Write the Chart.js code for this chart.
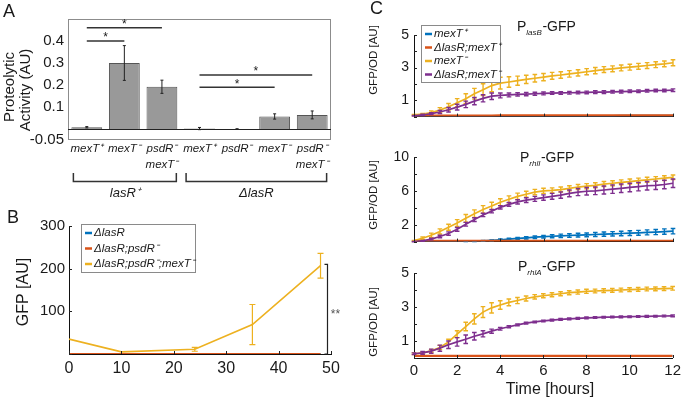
<!DOCTYPE html>
<html>
<head>
<meta charset="utf-8">
<title>Proteolytic activity and GFP reporters</title>
<script src="https://cdn.jsdelivr.net/npm/chart.js@4.4.1/dist/chart.umd.min.js"></script>
<style>
  body { margin: 0; background: #fff; }
  #page { position: relative; width: 685px; height: 401px; overflow: hidden; }
  canvas { position: absolute; }
</style>
</head>
<body>
<div id="page">
  <canvas id="chartA" width="345" height="200" style="left:0;top:0"></canvas>
  <canvas id="chartB" width="350" height="201" style="left:0;top:200px"></canvas>
  <canvas id="chartC1" width="330" height="130" style="left:355px;top:0"></canvas>
  <canvas id="chartC2" width="330" height="125" style="left:355px;top:130px"></canvas>
  <canvas id="chartC3" width="330" height="146" style="left:355px;top:255px"></canvas>
</div>
<script>
// ---- panel A: proteolytic activity
const aLabels = [['mexT⁺'], ['mexT⁻'], ['psdR⁻', 'mexT⁻'], ['mexT⁺'], ['psdR⁻'], ['mexT⁻'], ['psdR⁻', 'mexT⁻']];
const aValues = [0.008, 0.300, 0.192, 0.002, 0.000, 0.057, 0.064];
const aErrors = [0.003, 0.079, 0.030, 0.005, 0.001, 0.012, 0.018];
const aTicks = [-0.05, 0.1, 0.2, 0.3, 0.4];
const aSig = [[0, 2, 0.46], [0, 1, 0.40], [3, 6, 0.245], [3, 5, 0.19]];   // from bar, to bar, level
const aGroups = [['lasR⁺', 0, 2], ['ΔlasR', 3, 6]];

// ---- panel B: GFP over time
const bTimes = [0, 10, 24, 35, 48];
const bBlue = [0, 0, 0, 0, 0];
const bRed = [0, 0, 0, 0, 0];
const bYellow = [35, 5, 11, 69, 207];
const bYellowErr = [0, 0, 4.5, 47, 29];
const bSig = [49.2, 210];

// ---- panel C: reporter time courses (hours)
const cTimes = [0, 0.4, 0.8, 1.2, 1.6, 2.0, 2.4, 2.8, 3.2, 3.6, 4.0, 4.4, 4.8, 5.2, 5.6, 6.0,
  6.4, 6.8, 7.2, 7.6, 8.0, 8.4, 8.8, 9.2, 9.6, 10.0, 10.4, 10.8, 11.2, 11.6, 12.0];

// PlasB-GFP
const c1Blue = [0.04, 0.04, 0.04, 0.04, 0.04, 0.04, 0.04, 0.04, 0.04, 0.04, 0.05, 0.05, 0.05, 0.05, 0.05, 0.05,
  0.05, 0.05, 0.05, 0.05, 0.05, 0.05, 0.05, 0.05, 0.06, 0.06, 0.06, 0.06, 0.06, 0.06, 0.06];
const c1Red = [0.06, 0.06, 0.06, 0.06, 0.06, 0.06, 0.06, 0.06, 0.06, 0.06, 0.07, 0.07, 0.07, 0.07, 0.07, 0.07,
  0.07, 0.07, 0.07, 0.07, 0.07, 0.07, 0.07, 0.07, 0.08, 0.08, 0.08, 0.08, 0.08, 0.08, 0.08];
const c1Yellow = [0.10, 0.15, 0.25, 0.40, 0.60, 0.85, 1.10, 1.40, 1.65, 1.90, 2.05, 2.12, 2.20, 2.28, 2.35, 2.42,
  2.50, 2.55, 2.62, 2.68, 2.75, 2.82, 2.88, 2.93, 2.98, 3.03, 3.08, 3.13, 3.18, 3.23, 3.30];
const c1YellowErr = [0.03, 0.05, 0.10, 0.15, 0.20, 0.25, 0.30, 0.33, 0.36, 0.38, 0.36, 0.32, 0.28, 0.25, 0.23, 0.22,
  0.21, 0.20, 0.20, 0.19, 0.19, 0.19, 0.18, 0.18, 0.18, 0.18, 0.18, 0.18, 0.18, 0.18, 0.18];
const c1Purple = [0.05, 0.10, 0.18, 0.28, 0.42, 0.58, 0.75, 0.95, 1.12, 1.25, 1.30, 1.33, 1.36, 1.38, 1.40, 1.42,
  1.44, 1.45, 1.46, 1.47, 1.48, 1.50, 1.50, 1.52, 1.53, 1.55, 1.56, 1.58, 1.60, 1.60, 1.62];
const c1PurpleErr = [0.02, 0.04, 0.06, 0.10, 0.14, 0.18, 0.20, 0.22, 0.22, 0.20, 0.15, 0.12, 0.10, 0.10, 0.09, 0.09,
  0.08, 0.08, 0.08, 0.08, 0.08, 0.08, 0.08, 0.08, 0.08, 0.08, 0.08, 0.08, 0.08, 0.08, 0.08];

// PrhlI-GFP
const c2Blue = [0.00, 0.00, 0.00, 0.01, 0.01, 0.02, 0.03, 0.04, 0.08, 0.14, 0.22, 0.30, 0.38, 0.45, 0.52, 0.58,
  0.63, 0.68, 0.72, 0.76, 0.80, 0.84, 0.88, 0.92, 0.96, 1.00, 1.04, 1.09, 1.13, 1.18, 1.23];
const c2BlueErr = [0, 0, 0, 0, 0, 0, 0.02, 0.03, 0.05, 0.06, 0.08, 0.10, 0.12, 0.14, 0.15, 0.16,
  0.18, 0.20, 0.20, 0.22, 0.22, 0.24, 0.25, 0.26, 0.27, 0.28, 0.29, 0.30, 0.30, 0.32, 0.32];
const c2Red = [0.08, 0.08, 0.08, 0.08, 0.08, 0.08, 0.08, 0.08, 0.08, 0.08, 0.09, 0.09, 0.09, 0.09, 0.09, 0.09,
  0.09, 0.09, 0.09, 0.09, 0.10, 0.10, 0.10, 0.10, 0.10, 0.10, 0.10, 0.10, 0.10, 0.10, 0.10];
const c2Yellow = [0.10, 0.40, 0.75, 1.20, 1.70, 2.20, 2.75, 3.30, 3.80, 4.20, 4.65, 5.00, 5.35, 5.60, 5.85, 6.00,
  6.05, 6.15, 6.30, 6.45, 6.55, 6.65, 6.80, 6.90, 7.00, 7.10, 7.20, 7.30, 7.40, 7.50, 7.60];
const c2YellowErr = [0.05, 0.15, 0.25, 0.30, 0.35, 0.40, 0.45, 0.45, 0.45, 0.45, 0.42, 0.40, 0.38, 0.35, 0.32, 0.30,
  0.30, 0.30, 0.30, 0.30, 0.30, 0.30, 0.30, 0.30, 0.30, 0.30, 0.30, 0.30, 0.28, 0.28, 0.28];
const c2Purple = [0.00, 0.10, 0.30, 0.60, 0.95, 1.45, 2.05, 2.60, 3.15, 3.60, 4.05, 4.40, 4.70, 4.90, 5.05, 5.20,
  5.35, 5.50, 5.70, 5.85, 5.95, 6.00, 6.10, 6.20, 6.30, 6.40, 6.50, 6.60, 6.65, 6.75, 6.90];
const c2PurpleErr = [0.02, 0.05, 0.10, 0.15, 0.20, 0.22, 0.22, 0.22, 0.20, 0.20, 0.20, 0.22, 0.25, 0.28, 0.30, 0.32,
  0.35, 0.38, 0.40, 0.42, 0.45, 0.45, 0.48, 0.50, 0.50, 0.50, 0.50, 0.50, 0.50, 0.50, 0.50];

// PrhlA-GFP
const c3Blue = [0.12, 0.12, 0.12, 0.12, 0.12, 0.12, 0.12, 0.12, 0.12, 0.12, 0.12, 0.12, 0.12, 0.12, 0.12, 0.12,
  0.12, 0.12, 0.12, 0.12, 0.12, 0.12, 0.12, 0.12, 0.12, 0.12, 0.12, 0.12, 0.12, 0.12, 0.12];
const c3Red = [0.13, 0.13, 0.13, 0.13, 0.13, 0.13, 0.13, 0.13, 0.13, 0.13, 0.13, 0.13, 0.13, 0.13, 0.13, 0.13,
  0.13, 0.13, 0.13, 0.13, 0.13, 0.13, 0.13, 0.13, 0.13, 0.13, 0.13, 0.13, 0.13, 0.13, 0.13];
const c3Yellow = [0.25, 0.30, 0.42, 0.62, 0.95, 1.40, 1.85, 2.30, 2.70, 2.95, 3.12, 3.27, 3.38, 3.50, 3.60, 3.66,
  3.72, 3.78, 3.84, 3.88, 3.92, 3.94, 3.96, 3.98, 4.00, 4.02, 4.04, 4.06, 4.07, 4.08, 4.10];
const c3YellowErr = [0.05, 0.06, 0.08, 0.12, 0.15, 0.20, 0.25, 0.30, 0.32, 0.30, 0.25, 0.20, 0.18, 0.15, 0.13, 0.12,
  0.12, 0.12, 0.12, 0.12, 0.12, 0.11, 0.11, 0.11, 0.11, 0.11, 0.11, 0.11, 0.11, 0.11, 0.11];
const c3Purple = [0.25, 0.30, 0.40, 0.58, 0.78, 0.95, 1.10, 1.28, 1.42, 1.58, 1.72, 1.84, 1.95, 2.05, 2.12, 2.18,
  2.23, 2.27, 2.30, 2.33, 2.36, 2.38, 2.40, 2.41, 2.42, 2.43, 2.44, 2.45, 2.46, 2.47, 2.48];
const c3PurpleErr = [0.05, 0.08, 0.12, 0.18, 0.22, 0.25, 0.25, 0.22, 0.18, 0.12, 0.08, 0.06, 0.05, 0.05, 0.05, 0.05,
  0.05, 0.05, 0.05, 0.05, 0.05, 0.05, 0.05, 0.05, 0.05, 0.05, 0.05, 0.05, 0.05, 0.05, 0.05];

const cLabelsSmall = [1, 3, 5];
const cLabelsBig = [2, 6, 10];
const cXLabels = [0, 2, 4, 6, 8, 10, 12];

const FONT = "'Liberation Sans', Arial, sans-serif";
const BLUE = '#0072BD', RED = '#D95319', YELLOW = '#EDB120', PURPLE = '#7E2F8E';
const INK = '#1a1a1a';

Chart.defaults.font.family = FONT;
Chart.defaults.color = INK;
Chart.defaults.animation = false;
Chart.defaults.responsive = false;
Chart.defaults.plugins.legend.display = false;
Chart.defaults.plugins.tooltip.enabled = false;

const pts = (xs, ys) => xs.map((x, i) => ({ x: x, y: ys[i] }));

// error bars drawn right after their own dataset
const errorBars = {
  id: 'errorBars',
  afterDatasetDraw(chart, args) {
    const ds = chart.data.datasets[args.index];
    if (!ds.errors) return;
    const ctx = chart.ctx;
    const y = chart.scales.y;
    const cap = ds.capWidth || 2.5;
    ctx.save();
    ctx.strokeStyle = ds.errorColor || ds.borderColor;
    ctx.lineWidth = ds.errorWidth || 1.2;
    ctx.beginPath();
    args.meta.data.forEach((el, i) => {
      const e = ds.errors[i];
      if (!e) return;
      const raw = ds.data[i];
      const v = typeof raw === 'object' ? raw.y : raw;
      const top = y.getPixelForValue(v + e);
      const bot = y.getPixelForValue(v - e);
      ctx.moveTo(el.x, top); ctx.lineTo(el.x, bot);
      ctx.moveTo(el.x - cap, top); ctx.lineTo(el.x + cap, top);
      ctx.moveTo(el.x - cap, bot); ctx.lineTo(el.x + cap, bot);
    });
    ctx.stroke();
    ctx.restore();
  }
};

function text(ctx, str, x, y, font, opts) {
  opts = opts || {};
  ctx.save();
  ctx.font = font;
  ctx.fillStyle = opts.color || INK;
  ctx.textAlign = opts.align || 'center';
  ctx.textBaseline = opts.baseline || 'middle';
  ctx.translate(x, y);
  if (opts.vertical) ctx.rotate(-Math.PI / 2);
  ctx.fillText(str, 0, 0);
  ctx.restore();
}

function inwardTicks(chart, len) {
  const { ctx, chartArea: a, scales: { x, y } } = chart;
  ctx.save();
  ctx.strokeStyle = '#222';
  ctx.lineWidth = 1;
  ctx.beginPath();
  y.ticks.forEach(t => {
    const py = Math.round(y.getPixelForValue(t.value)) + 0.5;
    ctx.moveTo(a.left, py); ctx.lineTo(a.left + len, py);
  });
  x.ticks.forEach(t => {
    const px = Math.round(x.getPixelForValue(t.value)) + 0.5;
    ctx.moveTo(px, a.bottom); ctx.lineTo(px, a.bottom - len);
  });
  ctx.stroke();
  ctx.restore();
}

function boxLegend(chart, box, rowY, gap, font) {
  const ctx = chart.ctx;
  const sets = chart.data.datasets.slice().reverse();
  ctx.save();
  ctx.fillStyle = '#fff';
  ctx.fillRect(box[0], box[1], box[2] - box[0], box[3] - box[1]);
  ctx.strokeStyle = '#8a8a8a';
  ctx.lineWidth = 1;
  ctx.strokeRect(box[0] + 0.5, box[1] + 0.5, box[2] - box[0], box[3] - box[1]);
  sets.forEach((ds, i) => {
    const y = rowY + i * gap;
    ctx.strokeStyle = ds.borderColor;
    ctx.lineWidth = 2.5;
    ctx.beginPath();
    ctx.moveTo(box[0] + 4, y); ctx.lineTo(box[0] + 11, y);
    ctx.stroke();
    text(ctx, ds.label, box[0] + 13, y, font, { align: 'left' });
  });
  ctx.restore();
}

function reporterTitle(ctx, x, y, sub) {
  ctx.save();
  ctx.fillStyle = INK;
  ctx.textAlign = 'left';
  ctx.textBaseline = 'alphabetic';
  ctx.font = `14px ${FONT}`;
  ctx.fillText('P', x, y);
  x += ctx.measureText('P').width;
  ctx.font = `italic 8px ${FONT}`;
  ctx.fillText(sub, x, y + 3.5);
  x += ctx.measureText(sub).width + 0.5;
  ctx.font = `14px ${FONT}`;
  ctx.fillText('-GFP', x, y);
  ctx.restore();
}

// ---------- A ----------
const decorA = {
  id: 'decorA',
  afterDraw(chart) {
    const { ctx, chartArea: a, scales: { x, y } } = chart;
    const half = chart.getDatasetMeta(0).data[0].width / 2;
    ctx.save();
    ctx.strokeStyle = '#8c8c8c';
    ctx.lineWidth = 1;
    ctx.strokeRect(a.left + 0.5, a.top + 0.5, a.width - 1, a.height - 1);
    ctx.strokeStyle = '#222';
    ctx.beginPath();
    const zy = Math.round(y.getPixelForValue(0)) + 0.5;
    ctx.moveTo(a.left, zy); ctx.lineTo(a.right, zy);
    ctx.stroke();

    ctx.strokeStyle = '#333';
    ctx.lineWidth = 1.5;
    aSig.forEach(([i, j, lvl]) => {
      const x1 = x.getPixelForValue(i), x2 = x.getPixelForValue(j);
      const py = y.getPixelForValue(lvl);
      ctx.beginPath(); ctx.moveTo(x1, py); ctx.lineTo(x2, py); ctx.stroke();
      text(ctx, '*', (x1 + x2) / 2, py - 3, `12px ${FONT}`);
    });

    aGroups.forEach(([label, i, j]) => {
      const x1 = x.getPixelForValue(i) - half + 2, x2 = x.getPixelForValue(j) + half - 1;
      ctx.beginPath();
      ctx.moveTo(x1, 173); ctx.lineTo(x1, 181.5); ctx.lineTo(x2, 181.5); ctx.lineTo(x2, 173);
      ctx.stroke();
      text(ctx, label, (x1 + x2) / 2, 193, `italic 13px ${FONT}`);
    });
    ctx.restore();

    text(ctx, 'A', 3, 12, `18px ${FONT}`, { align: 'left' });
    text(ctx, 'Proteolytic', 10, 87, `15px ${FONT}`, { vertical: true });
    text(ctx, 'Activity (AU)', 26, 90, `15px ${FONT}`, { vertical: true });
  }
};

new Chart(document.getElementById('chartA'), {
  type: 'bar',
  data: {
    labels: aLabels,
    datasets: [{
      data: aValues,
      errors: aErrors,
      backgroundColor: '#999999',
      borderColor: '#555',
      borderWidth: 1,
      barPercentage: 0.82,
      categoryPercentage: 1,
      errorColor: '#222',
      errorWidth: 1,
      capWidth: 1.5
    }]
  },
  options: {
    layout: { padding: { left: 0, right: 14, top: 19, bottom: 0 } },
    scales: {
      x: {
        grid: { display: false, drawTicks: false },
        border: { display: false },
        ticks: { font: { size: 11.5, style: 'italic', lineHeight: 1.4 }, padding: 1, maxRotation: 0, autoSkip: false },
        afterFit: s => { s.height = 60; }
      },
      y: {
        min: -0.05,
        max: 0.5,
        afterBuildTicks: s => { s.ticks = aTicks.map(v => ({ value: v })); },
        ticks: { font: { size: 15 }, padding: 4, autoSkip: false, callback: v => String(v) },
        grid: { display: false, drawTicks: false },
        border: { display: false },
        afterFit: s => { s.width = 68; }
      }
    }
  },
  plugins: [errorBars, decorA]
});

// ---------- B ----------
const decorB = {
  id: 'decorB',
  afterDraw(chart) {
    const { ctx, scales: { x, y } } = chart;
    inwardTicks(chart, 3);
    const bx = Math.round(x.getPixelForValue(bSig[0])) + 0.5;
    const top = y.getPixelForValue(bSig[1]), bot = y.getPixelForValue(0);
    ctx.save();
    ctx.strokeStyle = '#222';
    ctx.lineWidth = 1.2;
    ctx.beginPath();
    ctx.moveTo(bx - 3, top); ctx.lineTo(bx, top); ctx.lineTo(bx, bot); ctx.lineTo(bx - 3, bot);
    ctx.stroke();
    ctx.restore();
    text(ctx, '**', bx + 8, y.getPixelForValue(100) + 3, `12px ${FONT}`, { color: '#555' });
    boxLegend(chart, [81, 24, 195, 72], 33, 15.5, `italic 11.5px ${FONT}`);
    text(ctx, 'B', 7, 18, `18px ${FONT}`, { align: 'left' });
    text(ctx, 'GFP [AU]', 24, 92, `16px ${FONT}`, { vertical: true });
  }
};

new Chart(document.getElementById('chartB'), {
  type: 'line',
  data: {
    datasets: [
      { label: 'ΔlasR;psdR⁻;mexT⁻', data: pts(bTimes, bYellow), errors: bYellowErr, borderColor: YELLOW, borderWidth: 1.6, pointRadius: 0, capWidth: 3 },
      { label: 'ΔlasR;psdR⁻', data: pts(bTimes, bRed), borderColor: RED, borderWidth: 2, pointRadius: 0 },
      { label: 'ΔlasR', data: pts(bTimes, bBlue), borderColor: BLUE, borderWidth: 2, pointRadius: 0 }
    ]
  },
  options: {
    layout: { padding: { left: 0, right: 19, top: 26, bottom: 0 } },
    scales: {
      x: {
        type: 'linear', min: 0, max: 50,
        ticks: { stepSize: 10, font: { size: 16 }, padding: 5, autoSkip: false },
        grid: { display: false, drawTicks: false },
        border: { color: '#111' },
        afterFit: s => { s.height = 47; }
      },
      y: {
        min: 0, max: 300,
        ticks: { stepSize: 100, font: { size: 15 }, padding: 4, autoSkip: false, callback: v => v === 0 ? '' : v },
        grid: { display: false, drawTicks: false },
        border: { color: '#111' },
        afterFit: s => { s.width = 69; }
      }
    }
  },
  plugins: [errorBars, decorB]
});

// ---------- C ----------
function reporterChart(id, cfg) {
  const decor = {
    id: 'decor' + id,
    afterDraw(chart) {
      const ctx = chart.ctx;
      inwardTicks(chart, 3);
      reporterTitle(ctx, cfg.titleX, cfg.titleY, cfg.sub);
      text(ctx, 'GFP/OD [AU]', 19, cfg.yTitle, `11.5px ${FONT}`, { vertical: true });
      if (cfg.extra) cfg.extra(chart);
    }
  };
  const line = (label, ys, color, errs, width) => ({
    label: label,
    data: pts(cTimes, ys),
    errors: errs,
    borderColor: color,
    borderWidth: width || 1.7,
    pointRadius: 0,
    capWidth: 2.3,
    errorWidth: 1.4
  });
  return new Chart(document.getElementById(id), {
    type: 'line',
    data: {
      datasets: [
        line('ΔlasR;mexT⁻', cfg.purple, PURPLE, cfg.purpleErr),
        line('mexT⁻', cfg.yellow, YELLOW, cfg.yellowErr),
        line('ΔlasR;mexT⁺', cfg.red, RED, null, 2.2),
        line('mexT⁺', cfg.blue, BLUE, cfg.blueErr, 1.7)
      ]
    },
    options: {
      layout: { padding: { left: 0, right: 12, top: cfg.top, bottom: 0 } },
      scales: {
        x: {
          type: 'linear', min: 0, max: 12,
          ticks: { display: cfg.showX, stepSize: 2, font: { size: 15 }, padding: 4, autoSkip: false,
            callback: v => cXLabels.includes(v) ? v : '' },
          grid: { display: false, drawTicks: false },
          border: { color: '#111' },
          afterFit: s => { s.height = cfg.xHeight; }
        },
        y: {
          min: 0, max: cfg.max,
          ticks: { stepSize: cfg.step, font: { size: 14 }, padding: 5, autoSkip: false,
            callback: v => cfg.labels.includes(v) ? v : '' },
          grid: { display: false, drawTicks: false },
          border: { color: '#111' },
          afterFit: s => { s.width = 59; }
        }
      }
    },
    plugins: [errorBars, decor]
  });
}

reporterChart('chartC1', {
  top: 35, xHeight: 10, showX: false, max: 5, step: 1, labels: cLabelsSmall,
  sub: 'lasB', titleX: 162, titleY: 31, yTitle: 60,
  blue: c1Blue, red: c1Red, yellow: c1Yellow, yellowErr: c1YellowErr, purple: c1Purple, purpleErr: c1PurpleErr,
  extra: chart => {
    boxLegend(chart, [66, 25, 145, 82], 34, 13.5, `italic 11.5px ${FONT}`);
    text(chart.ctx, 'C', 15, 9, `18px ${FONT}`, { align: 'left' });
  }
});

reporterChart('chartC2', {
  top: 27, xHeight: 12, showX: false, max: 10, step: 2, labels: cLabelsBig,
  sub: 'rhlI', titleX: 165, titleY: 32, yTitle: 65,
  blue: c2Blue, blueErr: c2BlueErr, red: c2Red, yellow: c2Yellow, yellowErr: c2YellowErr, purple: c2Purple, purpleErr: c2PurpleErr
});

reporterChart('chartC3', {
  top: 18, xHeight: 43, showX: true, max: 5, step: 1, labels: cLabelsSmall,
  sub: 'rhlA', titleX: 163, titleY: 16, yTitle: 67,
  blue: c3Blue, red: c3Red, yellow: c3Yellow, yellowErr: c3YellowErr, purple: c3Purple, purpleErr: c3PurpleErr,
  extra: chart => text(chart.ctx, 'Time [hours]', 195, 135, `16px ${FONT}`)
});
</script>
</body>
</html>
